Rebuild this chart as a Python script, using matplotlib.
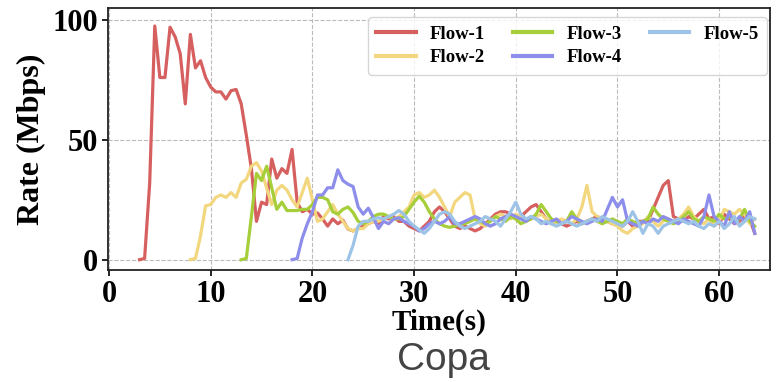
import numpy as np
import matplotlib
matplotlib.use("Agg")
import matplotlib.pyplot as plt

step = 0.5
flow_names = ["Flow-1", "Flow-2", "Flow-3", "Flow-4", "Flow-5"]
start_times = [3.0, 8.0, 13.0, 18.0, 23.5]

flow1 = [0, 0.5, 32, 97.5, 76, 76, 97, 93, 86, 65, 94, 80, 83, 76, 72, 70, 70, 67, 70.5, 71,
         65, 52, 38, 16, 24, 23, 42, 34, 38, 36, 46, 24, 20, 21, 19, 19.5, 17, 14, 17, 15,
         16.5, 12.8, 12, 13, 14, 15, 16, 15, 18, 17, 18, 16, 16, 14, 13, 12, 14, 16, 20, 22,
         20, 17, 14, 13, 14, 13, 12, 13, 15, 17, 19, 20, 20, 19, 17, 18, 20, 22, 23, 20,
         17, 15, 16, 15, 14, 15, 16, 15, 16, 17, 18, 17, 16, 15, 15, 14, 16, 14, 16, 16,
         16, 21, 26, 31, 33, 18, 17, 16, 18, 17, 19, 21, 17, 18, 15, 19, 17, 15, 16, 18,
         17, 11]
flow2 = [0, 0.5, 10, 22.5, 23, 26, 27, 26, 28, 26, 32, 33.5, 39, 40.5, 37, 30, 23, 29, 31, 29,
         25, 22, 28, 34, 25, 16, 17, 20, 23, 19, 16, 13, 12, 13, 13, 15, 16, 16, 17, 18,
         17, 18, 20, 22, 27, 28, 26, 27, 29, 26, 22, 18, 24, 26, 28, 27, 17, 15, 14, 16,
         18, 19, 18, 17, 19, 18, 16, 17, 18, 19, 17, 15, 16, 17, 16, 15, 17, 22, 31, 20,
         18, 17, 16, 15, 14, 12, 11, 13, 14, 15, 18, 16, 14, 16, 17, 16, 17, 19, 22, 18,
         16, 15, 17, 14, 16, 21, 20, 19, 21, 19, 15, 17]
flow3 = [0, 0.5, 18, 36, 33, 39, 30, 21, 24, 20.5, 20.5, 20.5, 21, 21, 23, 26, 26, 25, 20, 19,
         21, 22, 19.7, 16, 15, 16, 18, 19, 19, 18, 17, 17, 18, 21, 24, 26.5, 24, 20, 17, 15,
         14, 13.5, 14, 15, 15, 16, 17, 16, 15, 16, 18, 17, 16, 18, 17, 15, 16, 17, 19, 23,
         20, 17, 16, 15, 16, 20, 17, 15, 16, 17, 16, 15, 16, 17, 16, 15, 17, 16, 15, 16,
         17, 22, 19, 17, 16, 15, 16, 18, 20, 17, 16, 18, 17, 16, 19, 17, 18, 16, 17, 21,
         16, 14]
flow4 = [0, 0.5, 9, 15, 20, 27, 27, 30, 30, 37.5, 33, 31.5, 30.5, 22, 19, 21.5, 17.5, 13, 16, 15,
         17, 17.5, 16, 15, 14, 12, 13, 15, 16, 15, 16, 18, 15, 15, 16, 17, 18, 17, 15, 14,
         15, 17, 18, 19, 18, 17, 16, 18, 17, 16, 15, 16, 17, 15, 16, 18, 17, 16, 15, 16,
         17, 16, 21, 26, 22, 25, 16, 15, 14, 16, 15, 17, 16, 18, 17, 16, 15, 17, 16, 15,
         14, 18, 27, 18, 16, 14, 20, 15, 18, 16, 20, 11]
flow5 = [0, 6, 14, 16, 16, 17, 17.5, 17, 18, 19, 20.5, 19, 16, 14, 12.5, 11, 13, 16, 19, 20,
         19, 16, 14, 13, 14, 15, 16, 18, 17, 16, 14, 17, 20, 24, 19, 17, 18, 17, 15, 16,
         15, 14, 15, 16, 15, 14, 15, 16, 17, 16, 18, 17, 16, 15, 14, 16, 20, 16, 11, 15,
         14, 11, 14, 15, 16, 17, 16, 15, 16, 14, 13, 15, 14, 16, 13, 15, 18, 14, 16, 18,
         17]
flows = [flow1, flow2, flow3, flow4, flow5]
colors = ["#D65F5F", "#F2D77E", "#A6CE39", "#8D8DEB", "#9DC3E6"]

x_ticks = [0, 10, 20, 30, 40, 50, 60]
y_ticks = [0, 50, 100]

fig = plt.figure(figsize=(7.81, 3.82), dpi=100)
ax = fig.add_axes([108/781, 1 - 270/382, (770 - 108)/781, (270 - 8)/382])

for name, t0, vals, c in zip(flow_names, start_times, flows, colors):
    t = t0 + step * np.arange(len(vals))
    ax.plot(t, vals, color=c, lw=2.3, label=name)

ax.set_xlim(-0.1, 65)
ax.set_ylim(-4.3, 105)
ax.set_xticks(x_ticks)
ax.set_yticks(y_ticks)
tfont = {"family": "Liberation Serif", "weight": "bold"}
ax.set_xticklabels([str(v) for v in x_ticks], fontdict=dict(tfont, size=22))
ax.set_yticklabels([str(v) for v in y_ticks], fontdict=dict(tfont, size=22))
ax.tick_params(axis="both", length=4, width=1.2, pad=3)
ax.grid(True, ls="--", color="#bbbbbb", lw=0.8)
for s in ax.spines.values():
    s.set_linewidth(1.3)
    s.set_color("#222222")
ax.set_xlabel("Time(s)", fontdict=dict(tfont, size=21), labelpad=0)
ax.set_ylabel("Rate (Mbps)", fontdict=dict(tfont, size=23), labelpad=5)

leg = ax.legend(ncol=3, loc="upper right",
                bbox_to_anchor=(767/781, 1 - 17/382), bbox_transform=fig.transFigure,
                borderaxespad=0,
                prop={"family": "Liberation Serif", "weight": "bold", "size": 13.5},
                handlelength=2.1, columnspacing=1.5, handletextpad=0.75,
                labelspacing=0.35, borderpad=0.45, frameon=True, fancybox=True)
leg.get_frame().set_edgecolor("#cccccc")
for lh in leg.get_lines():
    lh.set_linewidth(3)

fig.text(443/781, 12/382, "Copa", ha="center", va="baseline", fontsize=28,
         family="Liberation Sans", color="#444444")

fig.savefig("out.png", dpi=100)
